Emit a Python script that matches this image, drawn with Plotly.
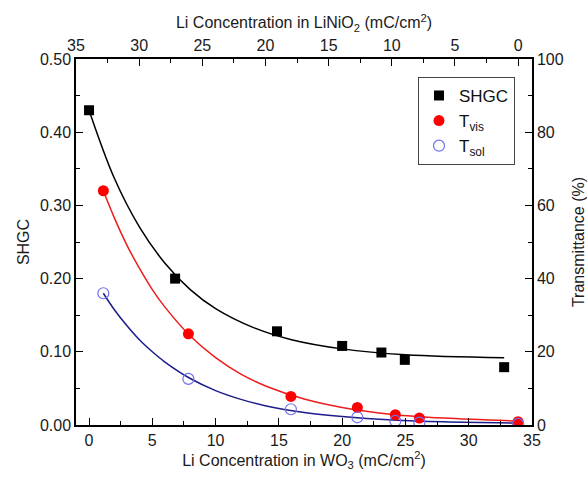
import plotly.graph_objects as go

# ---- measured points ----
shgc_x = [0.0, 6.8, 14.85, 20.0, 23.1, 24.95, 32.8]
shgc_y = [0.430, 0.200, 0.128, 0.108, 0.099, 0.089, 0.079]

tvis_x = [1.13, 7.85, 15.95, 21.2, 24.2, 26.1, 33.9]
tvis_y = [64.0, 24.9, 7.8, 4.8, 2.8, 1.9, 0.9]

tsol_x = [1.13, 7.85, 15.95, 21.2, 24.2, 26.1, 33.9]
tsol_y = [36.0, 12.6, 4.3, 2.1, 1.1, 0.65, 0.3]

# ---- fitted curves ----
shgc_fit_x = [0.0, 2, 4, 6, 8, 10, 13, 16, 20, 25, 32.8]
shgc_fit_y = [0.430, 0.337, 0.270, 0.221, 0.185, 0.159, 0.133, 0.1165, 0.104, 0.096, 0.092]

tvis_fit_x = [1.13, 2, 3, 4, 5, 6, 8, 10, 12, 14, 17, 20, 24, 28, 33.9]
tvis_fit_y = [64.0, 56.6, 49.1, 42.7, 37.0, 32.2, 24.3, 18.4, 13.9, 10.6, 7.1, 4.8, 2.9, 1.9, 1.1]

tsol_fit_x = [1.13, 2, 3, 4, 5, 6, 8, 10, 12, 14, 17, 20, 24, 28, 33.9]
tsol_fit_y = [36.0, 31.5, 27.1, 23.2, 20.0, 17.2, 12.7, 9.4, 7.0, 5.2, 3.4, 2.3, 1.36, 0.87, 0.53]

FONT = "Liberation Sans, Arial, sans-serif"

fig = go.Figure()

fig.add_trace(go.Scatter(x=shgc_fit_x, y=shgc_fit_y, mode="lines", line=dict(color="#000000", width=1.5, shape="spline"),
                         showlegend=False, hoverinfo="skip"))
fig.add_trace(go.Scatter(x=tvis_fit_x, y=tvis_fit_y, mode="lines", yaxis="y2",
                         line=dict(color="#ee1c1c", width=1.5, shape="spline"), showlegend=False, hoverinfo="skip"))
fig.add_trace(go.Scatter(x=tsol_fit_x, y=tsol_fit_y, mode="lines", yaxis="y2",
                         line=dict(color="#1c1c8c", width=1.5, shape="spline"), showlegend=False, hoverinfo="skip"))

fig.add_trace(go.Scatter(x=shgc_x, y=shgc_y, mode="markers", name="SHGC",
                         marker=dict(symbol="square", size=10, color="#000000")))
fig.add_trace(go.Scatter(x=tvis_x, y=tvis_y, mode="markers", name="T<sub>vis</sub>", yaxis="y2",
                         marker=dict(symbol="circle", size=11, color="#ff0000")))
fig.add_trace(go.Scatter(x=tsol_x, y=tsol_y, mode="markers", name="T<sub>sol</sub>", yaxis="y2",
                         marker=dict(symbol="circle-open", size=11, color="#6f6ff0", line=dict(width=1.2))))

# dummy trace to activate top axis
fig.add_trace(go.Scatter(x=[35], y=[None], xaxis="x2", mode="markers", showlegend=False, hoverinfo="skip"))

axis_common = dict(showline=True, linecolor="#000", linewidth=1.5, ticks="inside", ticklen=7, tickwidth=1.2,
                   tickcolor="#000", showgrid=False, zeroline=False, automargin=False,
                   tickfont=dict(family=FONT, size=16, color="#1a1a1a"))

fig.update_layout(
    width=587, height=478,
    margin=dict(l=76, r=55, t=59, b=53),
    paper_bgcolor="white", plot_bgcolor="white",
    font=dict(family=FONT, size=16, color="#1a1a1a"),
    xaxis=dict(range=[-1.03, 35], dtick=5, tick0=0,
               minor=dict(ticks="inside", ticklen=4, dtick=2.5, tickcolor="#000", tickwidth=1.2),
               title=dict(text="Li Concentration in WO<sub>3</sub> (mC/cm<sup>2</sup>)", standoff=5,
                          font=dict(family=FONT, size=16)),
               **axis_common),
    xaxis2=dict(range=[35, -1.1], dtick=5, tick0=0, overlaying="x", side="top", anchor="y",
                minor=dict(ticks="inside", ticklen=4, dtick=2.5, tickcolor="#000", tickwidth=1.2),
                title=dict(text="Li Concentration in LiNiO<sub>2</sub> (mC/cm<sup>2</sup>)", standoff=4,
                           font=dict(family=FONT, size=16)),
                **axis_common),
    yaxis=dict(range=[0, 0.5], dtick=0.1, tickformat=".2f",
               minor=dict(ticks="inside", ticklen=4, dtick=0.05, tickcolor="#000", tickwidth=1.2),
               title=dict(text="SHGC", standoff=6, font=dict(family=FONT, size=16)),
               **axis_common),
    yaxis2=dict(range=[0, 100], dtick=20, overlaying="y", side="right", anchor="x",
                minor=dict(ticks="inside", ticklen=4, dtick=10, tickcolor="#000", tickwidth=1.2),
                title=dict(text="Transmittance (%)", standoff=14, font=dict(family=FONT, size=16)),
                **axis_common),
    legend=dict(x=0.75, y=0.951, xanchor="left", yanchor="top", bgcolor="white",
                bordercolor="#444", borderwidth=1, font=dict(family=FONT, size=17, color="#111"),
                itemwidth=30, tracegroupgap=0),
)

fig.write_html("out.html")
